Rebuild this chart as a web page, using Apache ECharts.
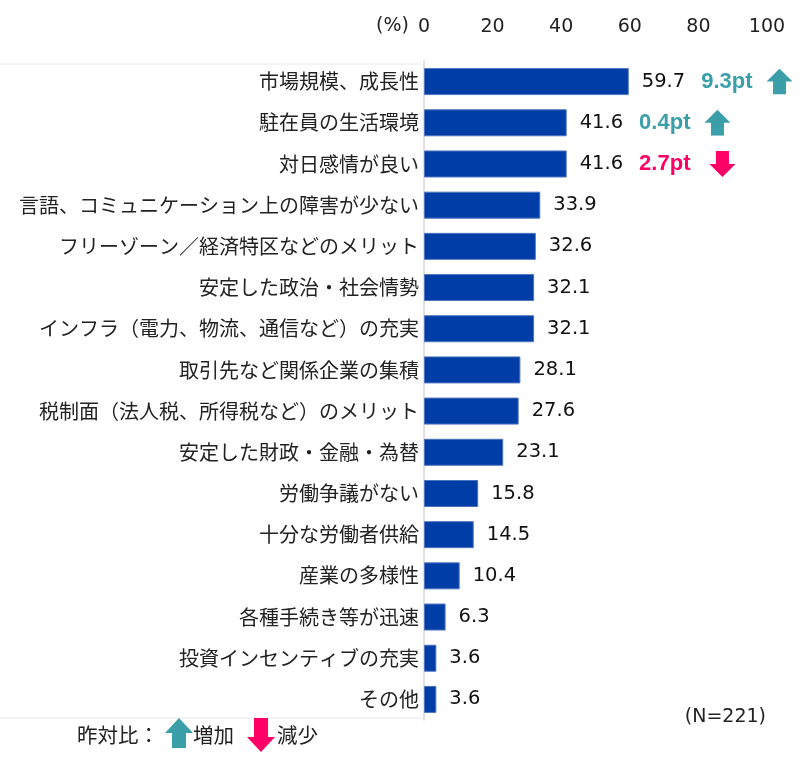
<!DOCTYPE html>
<html>
<head>
<meta charset="utf-8">
<script src="https://cdn.jsdelivr.net/npm/echarts@6/dist/echarts.min.js"></script>
<style>html,body{margin:0;padding:0;background:#fff;}#c{width:800px;height:765px;}</style>
</head>
<body>
<div id="c"></div>
<script>
var categories = ['市場規模、成長性','駐在員の生活環境','対日感情が良い','言語、コミュニケーション上の障害が少ない','フリーゾーン／経済特区などのメリット','安定した政治・社会情勢','インフラ（電力、物流、通信など）の充実','取引先など関係企業の集積','税制面（法人税、所得税など）のメリット','安定した財政・金融・為替','労働争議がない','十分な労働者供給','産業の多様性','各種手続き等が迅速','投資インセンティブの充実','その他'];
var values = [59.7,41.6,41.6,33.9,32.6,32.1,32.1,28.1,27.6,23.1,15.8,14.5,10.4,6.3,3.6,3.6];
var changes = [9.3,0.4,-2.7,null,null,null,null,null,null,null,null,null,null,null,null,null];
var xTicks = [0,20,40,60,80,100];

var TEAL = '#3a9fa9', PINK = '#ff0066', BAR = '#003da6';
var JP = '"Noto Sans CJK JP","Noto Sans",sans-serif';
var NUM = '"DejaVu Sans",Verdana,sans-serif';
var BOLD = 'Arial,"Liberation Sans",sans-serif';
function svgUrl(pts, color){
  return 'data:image/svg+xml;charset=utf-8,' + encodeURIComponent('<svg xmlns="http://www.w3.org/2000/svg" width="26" height="26" viewBox="0 0 26 26"><polygon points="'+pts+'" fill="'+color+'"/></svg>');
}
var upImg = svgUrl('13,0 26,13 19.5,13 19.5,26 6.5,26 6.5,13 0,13', TEAL);
var downImg = svgUrl('6.5,0 19.5,0 19.5,13 26,13 13,26 0,13 6.5,13', PINK);

var chart = echarts.init(document.getElementById('c'));
chart.setOption({
  animation: false,
  grid: {left: 424, right: 33, top: 61, bottom: 45, containLabel: false},
  xAxis: {
    type: 'value', position: 'top', min: 0, max: 100, interval: 20,
    axisLine: {show: false}, axisTick: {show: false}, splitLine: {show: false},
    axisLabel: {fontSize: 19, color: '#222', fontFamily: NUM, margin: 24,
      formatter: function(v){ return xTicks.indexOf(v) >= 0 ? String(v) : ''; }}
  },
  yAxis: {
    type: 'category', inverse: true, data: categories,
    axisLine: {show: true, lineStyle: {color: '#d6d6d6', width: 1.5}},
    axisTick: {show: false},
    axisLabel: {fontSize: 20, color: '#222', fontFamily: JP, margin: 5}
  },
  series: [{
    type: 'bar', data: values, barWidth: 27,
    itemStyle: {color: BAR, borderColor: '#4f74c0', borderWidth: 1},
    label: {
      show: true, position: 'right', distance: 13,
      formatter: function(p){
        var c = changes[p.dataIndex];
        var s = '{v|' + p.value.toFixed(1) + '}';
        if (c !== null) {
          if (c >= 0) s += '{g|}{u|' + c.toFixed(1) + 'pt}{g2|}{up|}';
          else s += '{g|}{d|' + Math.abs(c).toFixed(1) + 'pt}{g3|}{dn|}';
        }
        return s;
      },
      rich: {
        v: {fontSize: 19.5, color: '#111', fontFamily: NUM},
        g: {width: 16},
        g2: {width: 14},
        g3: {width: 19},
        u: {fontSize: 22, fontWeight: 'bold', color: TEAL, fontFamily: BOLD},
        d: {fontSize: 22, fontWeight: 'bold', color: PINK, fontFamily: BOLD},
        up: {width: 26, height: 26, backgroundColor: {image: upImg}},
        dn: {width: 26, height: 26, backgroundColor: {image: downImg}}
      }
    }
  }],
  graphic: [
    {type: 'text', x: 409, y: 26, style: {text: '(%)', fontSize: 19, fill: '#222', fontFamily: NUM, align: 'right', verticalAlign: 'middle'}},
    {type: 'line', shape: {x1: 0, y1: 64, x2: 422, y2: 64}, style: {stroke: '#e8e8e8', lineWidth: 1}},
    {type: 'line', shape: {x1: 0, y1: 718, x2: 422, y2: 718}, style: {stroke: '#e8e8e8', lineWidth: 1}},
    {type: 'text', x: 766, y: 717, style: {text: '(N=221)', fontSize: 19, fill: '#222', fontFamily: NUM, align: 'right', verticalAlign: 'middle'}},
    {type: 'text', x: 77, y: 735, style: {text: '昨対比：', fontSize: 20.5, fill: '#222', fontFamily: JP, verticalAlign: 'middle'}},
    {type: 'polygon', shape: {points: [[179,718],[193,733],[186,733],[186,748],[172,748],[172,733],[165,733]]}, style: {fill: TEAL}},
    {type: 'text', x: 193, y: 735, style: {text: '増加', fontSize: 20.5, fill: '#222', fontFamily: JP, verticalAlign: 'middle'}},
    {type: 'polygon', shape: {points: [[254,718],[268,718],[268,737],[275,737],[261,752],[247,737],[254,737]]}, style: {fill: PINK}},
    {type: 'text', x: 277, y: 735, style: {text: '減少', fontSize: 20.5, fill: '#222', fontFamily: JP, verticalAlign: 'middle'}}
  ]
});
</script>
</body>
</html>
